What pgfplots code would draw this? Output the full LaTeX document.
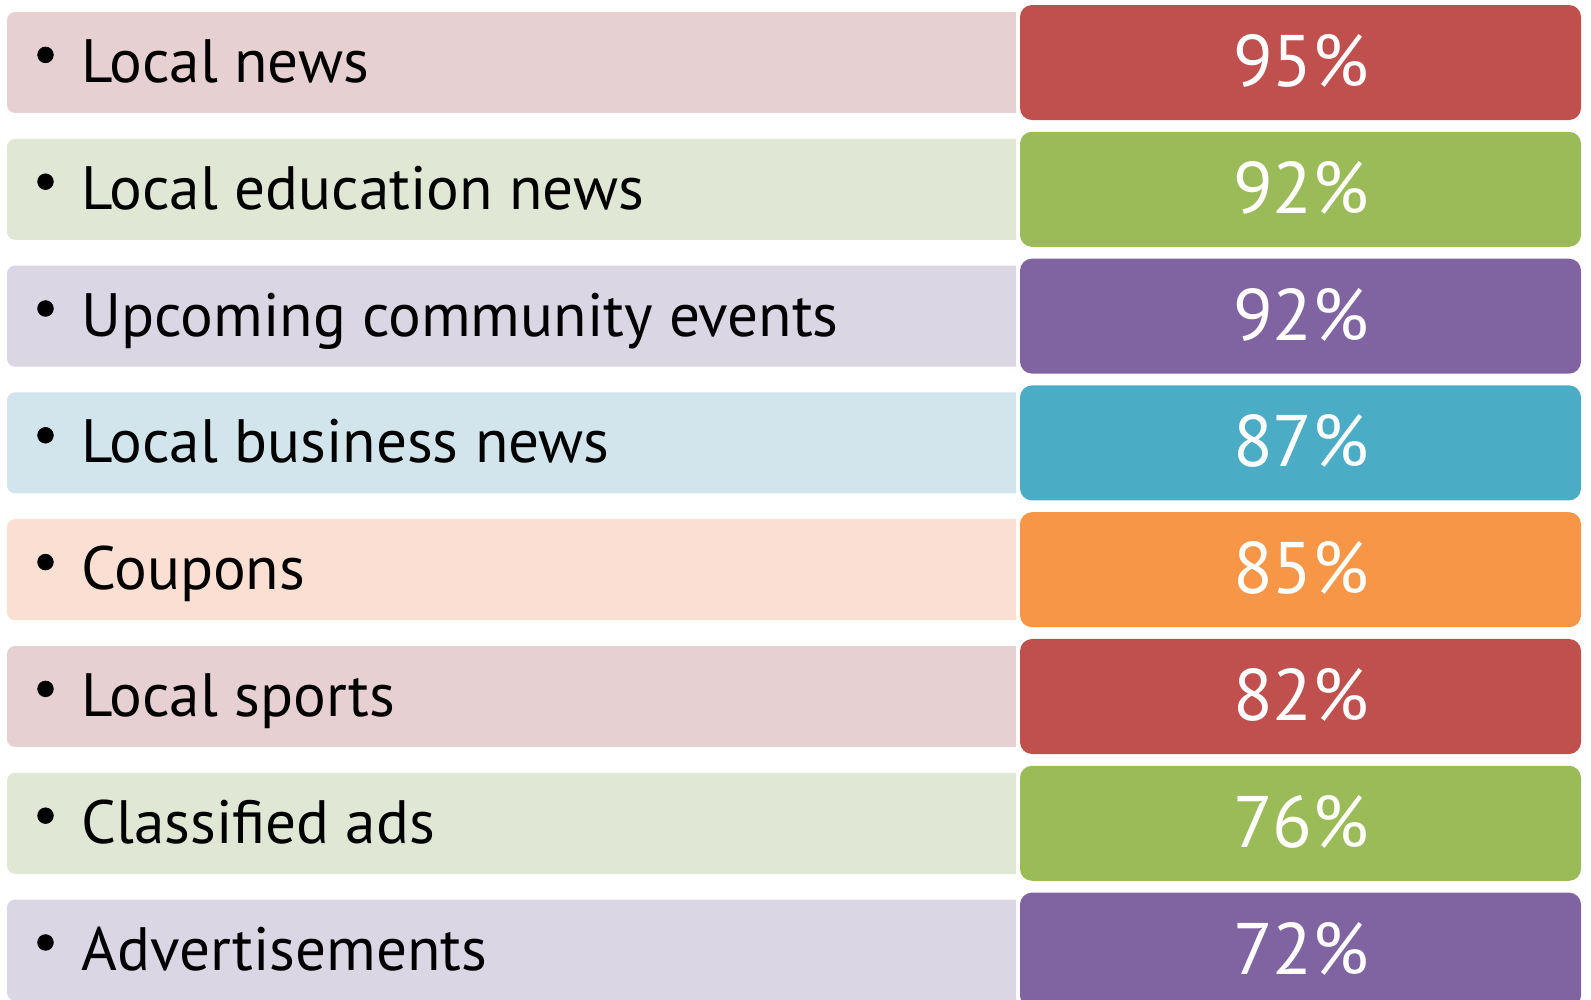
\documentclass[border=0pt]{standalone}
\usepackage{pgfplots}
\usepackage{pgfplotstable}
\pgfplotsset{compat=1.18}
\usepackage{fontspec}
\setmainfont{PT Sans}
\definecolor{c0}{HTML}{C0504D}
\definecolor{c1}{HTML}{9BBB59}
\definecolor{c2}{HTML}{8064A2}
\definecolor{c3}{HTML}{4BACC6}
\definecolor{c4}{HTML}{F79646}
\colorlet{c5}{c0}
\colorlet{c6}{c1}
\colorlet{c7}{c2}
\definecolor{l0}{HTML}{E7D0D2}
\definecolor{l1}{HTML}{E0E8D5}
\definecolor{l2}{HTML}{DBD6E4}
\definecolor{l3}{HTML}{D3E5EC}
\definecolor{l4}{HTML}{FCDFD3}
\colorlet{l5}{l0}
\colorlet{l6}{l1}
\colorlet{l7}{l2}
\pgfplotstableread[col sep=comma]{
row,value,label
0,95,Local news
1,92,Local education news
2,92,Upcoming community events
3,87,Local business news
4,85,Coupons
5,82,Local sports
6,76,Classified ads
7,72,Advertisements
}\datatable
\begin{document}
\begin{tikzpicture}
\begin{axis}[
  scale only axis, width=795.5pt, height=500pt,
  xmin=0, xmax=1591, ymin=-0.4929, ymax=7.3936,
  y dir=reverse, hide axis, clip=true,
  /pgf/number format/assume math mode=true,
]
\pgfplotsinvokeforeach{0,...,7}{
  \fill[l#1] (axis cs:1016,#1-0.398) [rounded corners=4pt] -- (axis cs:7,#1-0.398) -- (axis cs:7,#1+0.398) [sharp corners] -- (axis cs:1016,#1+0.398) -- cycle;
  \fill[c#1, rounded corners=6pt] (axis cs:1020,#1-0.4535) rectangle (axis cs:1581,#1+0.4535);
}
\addplot[only marks, mark=*, mark size=3.9pt, black] table[x expr=45.5, y expr=\thisrow{row}-0.06] {\datatable};
\addplot[draw=none, mark=none, point meta=explicit symbolic,
  nodes near coords,
  nodes near coords style={anchor=base west, inner sep=0pt, font=\fontsize{30.6}{36}\selectfont, text=black, yshift=-10pt}]
  table[x expr=81, y=row, meta=label] {\datatable};
\addplot[draw=none, mark=none, point meta=explicit,
  nodes near coords={\pgfmathprintnumber{\pgfplotspointmeta}\%},
  nodes near coords style={anchor=base, inner sep=0pt, font=\fontsize{36.5}{42}\selectfont, text=white, yshift=-12pt}]
  table[x expr=1301, y=row, meta=value] {\datatable};
\end{axis}
\pgfresetboundingbox
\path (current axis.south west) rectangle (current axis.north east);
\end{tikzpicture}
\end{document}
